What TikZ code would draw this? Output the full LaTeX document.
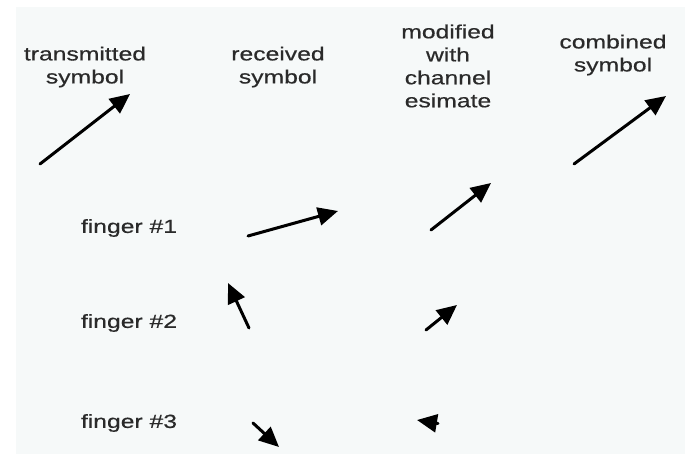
\documentclass[tikz,border=0pt]{standalone}
\usepackage{fontspec}
\setmainfont[FakeStretch=1.3,FakeBold=0.5]{Liberation Sans}
\usetikzlibrary{arrows.meta}
\definecolor{panel}{HTML}{F6F9F9}
\definecolor{ink}{HTML}{2A2A2A}
\tikzset{
  lbl/.style={font=\fontsize{19}{23}\selectfont, text=ink, align=center, inner sep=0pt},
  vec/.style={line width=3pt, draw=black, line cap=round,
              -{Triangle[length=20pt,width=18pt]}}
}
\begin{document}
\begin{tikzpicture}[x=1pt,y=-1pt]
  \useasboundingbox (0,0) rectangle (685,454);
  \fill[white] (0,0) rectangle (685,454);
  \fill[panel] (16,7) rectangle (685,454);

  % column headings
  \node[lbl] (hTx)  at (85,67)  {transmitted\\symbol};
  \node[lbl] (hRx)  at (278,67) {received\\symbol};
  \node[lbl] (hMod) at (448,66) {modified\\with\\channel\\esimate};
  \node[lbl] (hCmb) at (613,55) {combined\\symbol};

  % row labels
  \node[lbl] (f1) at (129,228) {finger \#1};
  \node[lbl] (f2) at (129,323) {finger \#2};
  \node[lbl] (f3) at (129,423) {finger \#3};

  % vector end points
  \coordinate (tx0) at (40,164);   \coordinate (tx1) at (130,94);
  \coordinate (cb0) at (574,164);  \coordinate (cb1) at (666,96);
  \coordinate (r10) at (248,236);  \coordinate (r11) at (338,211);
  \coordinate (m10) at (431,230);  \coordinate (m11) at (491,183);
  \coordinate (r20) at (249,328);  \coordinate (r21) at (228,283);
  \coordinate (m20) at (426,330);  \coordinate (m21) at (457,305);
  \coordinate (r30) at (253,423);  \coordinate (r31) at (279,447);
  \coordinate (m30) at (438,423.5);\coordinate (m31) at (417,420);

  % symbol vectors
  \draw[vec] (tx0) -- (tx1);
  \draw[vec] (cb0) -- (cb1);
  \draw[vec] (r10) -- (r11);
  \draw[vec] (m10) -- (m11);
  \draw[vec] (r20) -- (r21);
  \draw[vec] (m20) -- (m21);
  \draw[vec] (r30) -- (r31);
  \draw[vec] (m30) -- (m31);
\end{tikzpicture}
\end{document}
